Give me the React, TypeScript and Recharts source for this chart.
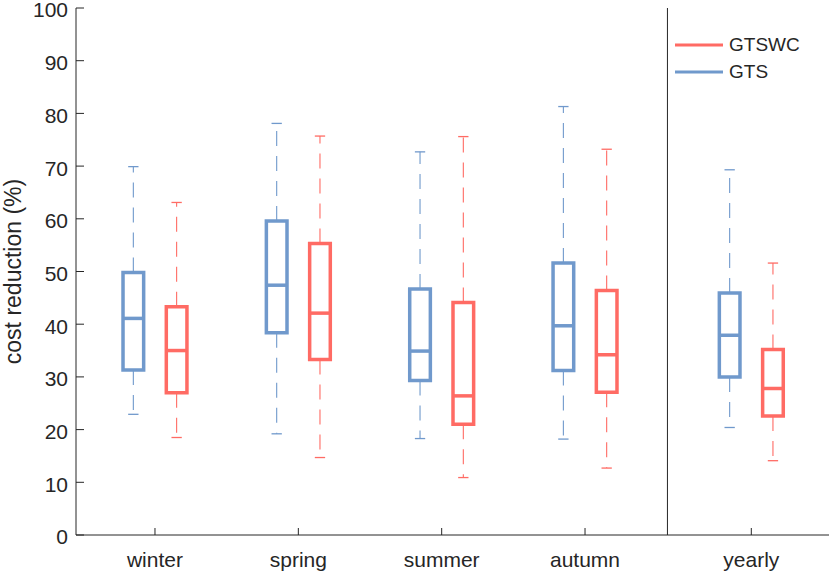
import React from 'react';
import {
  ComposedChart,
  Scatter,
  XAxis,
  YAxis,
  ReferenceArea,
  ReferenceLine,
  Legend,
} from 'recharts';

// seasons + the whole year, placed on a numeric x axis (yearly sits apart, past the divider)
const categories = ['winter', 'spring', 'summer', 'autumn', 'yearly'];
const positions = [1, 2, 3, 4, 5.16];
const dividerAt = 4.575;
const yTicks = [0, 10, 20, 30, 40, 50, 60, 70, 80, 90, 100];

// GTS box stats (%)
const gtsMin = [22.9, 19.2, 18.3, 18.2, 20.4];
const gtsQ1 = [31.3, 38.4, 29.3, 31.2, 30.0];
const gtsMedian = [41.1, 47.4, 34.9, 39.7, 37.9];
const gtsQ3 = [49.8, 59.6, 46.7, 51.6, 45.9];
const gtsMax = [69.9, 78.1, 72.7, 81.3, 69.3];

// GTSWC box stats (%)
const gtswcMin = [18.5, 14.7, 10.9, 12.7, 14.1];
const gtswcQ1 = [27.0, 33.3, 21.0, 27.1, 22.6];
const gtswcMedian = [35.0, 42.1, 26.4, 34.2, 27.8];
const gtswcQ3 = [43.3, 55.3, 44.1, 46.4, 35.2];
const gtswcMax = [63.1, 75.7, 75.6, 73.2, 51.6];

const BLUE = '#7099cc';
const RED = '#ff6b64';
const INK = '#262626';
const FONT = '"Liberation Sans", Arial, Helvetica, sans-serif';

const OFFSET = 0.151; // GTS left of the tick, GTSWC right of it
const HALF_BOX = 0.072;
const HALF_CAP = 0.036;
const DASH = '15 10';

type BoxSeries = {
  name: string;
  color: string;
  shift: number;
  min: number[];
  q1: number[];
  median: number[];
  q3: number[];
  max: number[];
};

const series: BoxSeries[] = [
  { name: 'GTSWC', color: RED, shift: OFFSET, min: gtswcMin, q1: gtswcQ1, median: gtswcMedian, q3: gtswcQ3, max: gtswcMax },
  { name: 'GTS', color: BLUE, shift: -OFFSET, min: gtsMin, q1: gtsQ1, median: gtsMedian, q3: gtsQ3, max: gtsMax },
];

function renderBoxes(s: BoxSeries) {
  const out: React.ReactNode[] = [];
  positions.forEach((p, i) => {
    const cx = p + s.shift;
    const key = `${s.name}-${i}`;
    // whiskers (dashed, drawn away from the box) + caps
    out.push(
      <ReferenceLine key={`${key}-wu`} segment={[{ x: cx, y: s.q3[i] }, { x: cx, y: s.max[i] }]}
        stroke={s.color} strokeWidth={1.1} strokeDasharray={DASH} ifOverflow="visible" />,
      <ReferenceLine key={`${key}-wl`} segment={[{ x: cx, y: s.q1[i] }, { x: cx, y: s.min[i] }]}
        stroke={s.color} strokeWidth={1.1} strokeDasharray={DASH} ifOverflow="visible" />,
      <ReferenceLine key={`${key}-cu`} segment={[{ x: cx - HALF_CAP, y: s.max[i] }, { x: cx + HALF_CAP, y: s.max[i] }]}
        stroke={s.color} strokeWidth={1.3} ifOverflow="visible" />,
      <ReferenceLine key={`${key}-cl`} segment={[{ x: cx - HALF_CAP, y: s.min[i] }, { x: cx + HALF_CAP, y: s.min[i] }]}
        stroke={s.color} strokeWidth={1.3} ifOverflow="visible" />,
      <ReferenceArea key={`${key}-box`} x1={cx - HALF_BOX} x2={cx + HALF_BOX} y1={s.q1[i]} y2={s.q3[i]}
        fill="#ffffff" fillOpacity={1} stroke={s.color} strokeWidth={3.5} ifOverflow="visible" />,
      <ReferenceLine key={`${key}-med`} segment={[{ x: cx - HALF_BOX, y: s.median[i] }, { x: cx + HALF_BOX, y: s.median[i] }]}
        stroke={s.color} strokeWidth={3.5} ifOverflow="visible" />,
    );
  });
  return out;
}

function LegendBox() {
  return (
    <div style={{ fontFamily: FONT, fontSize: 19, color: INK }}>
      {series.map((s) => (
        <div key={s.name} style={{ display: 'flex', alignItems: 'center', height: 27 }}>
          <svg width={48} height={6} style={{ marginRight: 6 }}>
            <line x1={0} y1={3} x2={48} y2={3} stroke={s.color} strokeWidth={3} />
          </svg>
          <span>{s.name}</span>
        </div>
      ))}
    </div>
  );
}

const tickLabel = (v: number) => {
  const i = positions.indexOf(v);
  return i >= 0 ? categories[i] : '';
};

export default function App() {
  const medianPoints = series.map((s) =>
    positions.map((p, i) => ({ x: p + s.shift, y: s.median[i] })),
  );

  return (
    <div style={{ position: 'absolute', left: 0, top: 0, width: 830, height: 572, background: '#fff' }}>
      <ComposedChart width={830} height={572} margin={{ top: 8, right: 1, bottom: 0, left: 0 }}>
        <XAxis
          xAxisId={0}
          type="number"
          dataKey="x"
          domain={[0.449, 5.702]}
          allowDataOverflow
          ticks={positions}
          tickFormatter={tickLabel}
          height={37}
          tickSize={-7}
          tickMargin={24}
          axisLine={{ stroke: INK }}
          tickLine={{ stroke: INK }}
          tick={{ fill: INK, fontSize: 21, fontFamily: FONT }}
          interval={0}
        />
        <XAxis
          xAxisId="top"
          orientation="top"
          type="number"
          dataKey="x"
          domain={[0.449, 5.702]}
          allowDataOverflow
          ticks={positions}
          height={0}
          tickSize={-7}
          tick={false}
          axisLine={{ stroke: INK }}
          tickLine={{ stroke: INK }}
          interval={0}
        />
        <YAxis
          yAxisId={0}
          type="number"
          dataKey="y"
          domain={[0, 100]}
          allowDataOverflow
          ticks={yTicks}
          width={76}
          tickSize={-8}
          tickMargin={16}
          axisLine={{ stroke: INK }}
          tickLine={{ stroke: INK }}
          tick={{ fill: INK, fontSize: 21, fontFamily: FONT, dy: 2 }}
          interval={0}
          label={{
            value: 'cost reduction (%)',
            angle: -90,
            position: 'insideLeft',
            offset: 13,
            style: { textAnchor: 'middle', fill: INK, fontSize: 23, fontFamily: FONT },
          }}
        />
        <YAxis
          yAxisId="right"
          orientation="right"
          type="number"
          domain={[0, 100]}
          allowDataOverflow
          ticks={yTicks}
          width={0}
          tickSize={-8}
          tick={false}
          axisLine={{ stroke: INK }}
          tickLine={{ stroke: INK }}
          interval={0}
        />

        <ReferenceLine x={dividerAt} stroke={INK} strokeWidth={1} />

        {series.map((s) => renderBoxes(s))}

        {series.map((s, k) => (
          <Scatter
            key={s.name}
            name={s.name}
            data={medianPoints[k]}
            fill={s.color}
            shape={() => <g />}
            isAnimationActive={false}
          />
        ))}

        <Legend
          layout="horizontal"
          verticalAlign="middle"
          align="center"
          content={() => <LegendBox />}
          wrapperStyle={{ position: 'absolute', left: 675, top: 31, width: 150, height: 54 }}
        />
      </ComposedChart>
    </div>
  );
}
